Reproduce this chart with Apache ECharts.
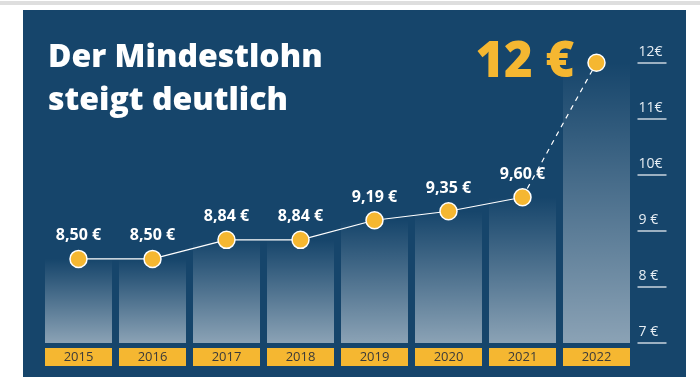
<!DOCTYPE html>
<html>
<head>
<meta charset="utf-8">
<script src="https://cdn.jsdelivr.net/npm/echarts@6/dist/echarts.min.js"></script>
<style>
  html, body { margin: 0; padding: 0; background: #ffffff; }
  #chart { width: 700px; height: 377px; }
</style>
</head>
<body>
<div id="chart"></div>
<script>
var years = ['2015', '2016', '2017', '2018', '2019', '2020', '2021', '2022'];
var wages = [8.50, 8.50, 8.84, 8.84, 9.19, 9.35, 9.60, 12];
var tickLabels = { 7: '7 €', 8: '8 €', 9: '9 €', 10: '10€', 11: '11€', 12: '12€' };

var navy = '#16456b';
var gold = '#f5b731';

// durchgezogen bis 2021, gestrichelt nach 2022
var solidLine = wages.map(function (v, i) { return i < wages.length - 1 ? v : '-'; });
var dashLine = wages.map(function (v, i) { return i >= wages.length - 2 ? v : '-'; });

function euro(v) {
    return v.toFixed(2).replace('.', ',') + ' €';
}

var myChart = echarts.init(document.getElementById('chart'));

myChart.setOption({
    animation: false,
    backgroundColor: '#ffffff',
    graphic: [
        { type: 'rect', shape: { x: 0, y: 1, width: 700, height: 4 }, style: { fill: '#dedede' }, z: -10 },
        { type: 'rect', shape: { x: 23, y: 10, width: 663, height: 367 }, style: { fill: navy }, z: -10 }
    ],
    title: {
        text: 'Der Mindestlohn\nsteigt deutlich',
        left: 43,
        top: 31,
        textStyle: {
            color: '#ffffff',
            fontFamily: 'Open Sans',
            fontWeight: 800,
            fontSize: 32,
            lineHeight: 43
        }
    },
    grid: { left: 41.5, right: 66.5, top: 62.7, bottom: 34 },
    xAxis: {
        type: 'category',
        data: years,
        axisLine: { show: false },
        axisTick: { show: false },
        axisLabel: {
            margin: 5,
            color: '#3a3a3a',
            fontFamily: 'Open Sans',
            fontSize: 13,
            backgroundColor: gold,
            width: 67,
            height: 18,
            lineHeight: 18,
            align: 'center'
        }
    },
    yAxis: {
        type: 'value',
        position: 'right',
        min: 7,
        max: 12,
        interval: 1,
        offset: 4,
        splitLine: { show: false },
        axisLine: { show: false },
        axisTick: { show: true, length: 29, lineStyle: { color: '#c9d4de', width: 1.5 } },
        axisLabel: {
            margin: 1,
            align: 'left',
            verticalAlign: 'bottom',
            padding: [0, 0, 4, 0],
            color: '#e6edf3',
            fontFamily: 'Open Sans',
            fontSize: 14,
            formatter: function (v) { return tickLabels[v]; }
        }
    },
    series: [
        {
            type: 'bar',
            data: wages,
            barWidth: 67,
            silent: true,
            itemStyle: {
                color: {
                    type: 'linear', x: 0, y: 0, x2: 0, y2: 1,
                    colorStops: [
                        { offset: 0, color: 'rgba(255,255,255,0.0)' },
                        { offset: 0.25, color: 'rgba(255,255,255,0.12)' },
                        { offset: 1, color: 'rgba(255,255,255,0.5)' }
                    ]
                }
            }
        },
        {
            type: 'line',
            data: dashLine,
            symbol: 'none',
            z: 3,
            lineStyle: { color: '#ffffff', width: 1.2, type: [5, 5] }
        },
        {
            type: 'line',
            data: solidLine,
            symbol: 'none',
            z: 3,
            lineStyle: { color: '#ffffff', width: 1.2 }
        },
        {
            type: 'scatter',
            data: wages.map(function (v, i) {
                var item = { value: v };
                if (i === wages.length - 1) {
                    item.label = {
                        position: 'left',
                        distance: 13,
                        color: gold,
                        fontFamily: 'Open Sans',
                        fontSize: 49,
                        fontWeight: 800,
                        formatter: '12 €'
                    };
                }
                return item;
            }),
            symbolSize: 17,
            z: 5,
            itemStyle: { color: gold, opacity: 1, borderColor: '#ffffff', borderWidth: 1.5 },
            label: {
                show: true,
                position: 'top',
                distance: 6,
                color: '#ffffff',
                fontFamily: 'Open Sans',
                fontWeight: 'bold',
                fontSize: 16,
                formatter: function (p) { return euro(p.value); }
            }
        }
    ]
});
</script>
</body>
</html>
